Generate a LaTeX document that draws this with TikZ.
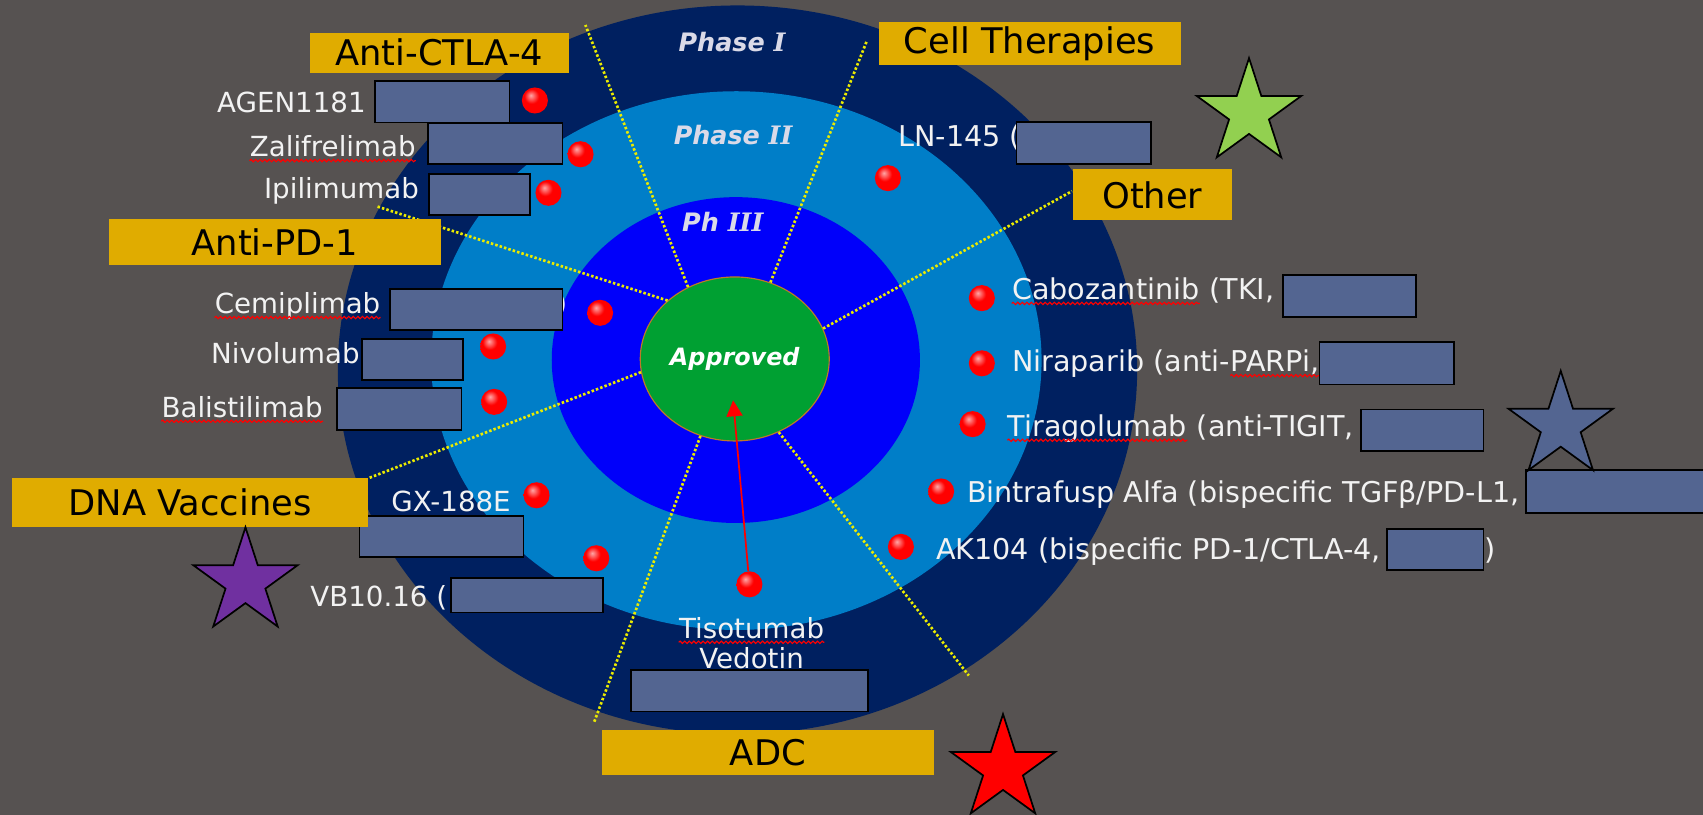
\documentclass[tikz,border=0pt]{standalone}
\usepackage{fontspec}
\setmainfont{DejaVu Sans}
\newfontfamily\romfont{DejaVu Serif}
\usepackage{xcolor}
\usepackage{tikz}
\usetikzlibrary{arrows.meta,positioning,shapes.geometric,decorations.pathmorphing}
\definecolor{ptbg}{RGB}{86,82,81}
\definecolor{ptnavy}{RGB}{0,32,96}
\definecolor{ptsky}{RGB}{0,126,200}
\definecolor{ptblue}{RGB}{0,0,250}
\definecolor{ptgreen}{RGB}{0,160,50}
\definecolor{ptrim}{RGB}{190,120,40}
\definecolor{ptgold}{RGB}{224,172,0}
\definecolor{ptredact}{RGB}{83,101,145}
\definecolor{ptyellow}{RGB}{235,235,0}
\definecolor{ptphase}{RGB}{218,218,232}
\definecolor{ptlabel}{RGB}{242,242,242}
\definecolor{ptlime}{RGB}{146,208,80}
\definecolor{ptpurple}{RGB}{112,48,160}
\pgfdeclareradialshading{ptball}{\pgfpoint{-8bp}{10bp}}{color(0bp)=(red!35!white);
  color(14bp)=(red); color(38bp)=(red); color(52bp)=(red!82!black); color(70bp)=(red!70!black)}
\tikzset{
  pttag/.style={fill=ptgold, text=black, inner sep=0pt,
    font=\fontsize{18.5}{22}\selectfont},
  ptname/.style={text=ptlabel, inner sep=0pt, font=\fontsize{14.5}{17}\selectfont},
  ptnamer/.style={text=ptlabel, inner sep=0pt, font=\fontsize{15}{18}\selectfont},
  ptbox/.style={draw=black, fill=ptredact, line width=0.9pt, inner sep=0pt},
  ptdot/.style={circle, shading=ptball, minimum size=0.48cm, inner sep=0pt},
  ptphasetxt/.style={text=ptphase, font=\fontsize{13.3}{16}\selectfont\bfseries\itshape},
  ptsector/.style={draw=ptyellow, line width=1.4pt, dash pattern=on 1.3pt off 1.1pt},
  ptspell/.style={draw=red, line width=0.6pt, decorate,
    decoration={snake, amplitude=0.6pt, segment length=2.4pt}},
  ptstar/.style={star, star points=5, star point ratio=2.618, minimum size=2.02cm,
    inner sep=0pt, draw=black, line width=0.9pt},
  ptarrow/.style={-{Triangle[length=8.4pt,width=8.4pt]}, draw=red, line width=0.9pt}
}
\begin{document}
\begin{tikzpicture}
  \useasboundingbox (0,0) rectangle (31.36cm,-15.00cm);
  \fill[ptbg] (0,0) rectangle (31.36cm,-15.00cm);
  \fill[ptnavy] (13.58cm,-6.81cm) ellipse (7.36cm and 6.71cm);
  \fill[ptsky] (13.56cm,-6.64cm) ellipse (5.62cm and 4.96cm);
  \fill[ptblue] (13.55cm,-6.63cm) ellipse (3.39cm and 3.00cm);
  \node[ellipse, draw=ptrim, line width=0.6pt, fill=ptgreen, minimum width=3.48cm,
    minimum height=3.02cm, inner sep=0pt, text=white,
    font=\fontsize{12.5}{15}\selectfont\bfseries\itshape] (appr) at (13.53cm,-6.61cm) {Approved};
  \coordinate (sCtla) at (10.78cm,-0.46cm);
  \coordinate (sCell) at (15.96cm,-0.76cm);
  \coordinate (sOther) at (19.74cm,-3.52cm);
  \coordinate (sPd) at (6.94cm,-3.80cm);
  \coordinate (sDna) at (6.80cm,-8.80cm);
  \coordinate (sAdcL) at (10.94cm,-13.30cm);
  \coordinate (sAdcR) at (17.84cm,-12.44cm);
  \draw[ptsector] (appr.123) -- (sCtla);
  \draw[ptsector] (appr.65) -- (sCell);
  \draw[ptsector] (appr.19) -- (sOther);
  \draw[ptsector] (appr.139) -- (sPd);
  \draw[ptsector] (appr.188) -- (sDna);
  \draw[ptsector] (appr.246) -- (sAdcL);
  \draw[ptsector] (appr.301) -- (sAdcR);
  \node[ptphasetxt] (phI) at (13.48cm,-0.78cm) {Phase {\romfont I}};
  \node[ptphasetxt] (phII) at (13.50cm,-2.48cm) {Phase {\romfont II}};
  \node[ptphasetxt] (phIII) at (13.31cm,-4.09cm) {Ph {\romfont III}};
  \node[ptname, anchor=base east] (tAgen) at (6.74cm,-2.07cm) {AGEN1181};
  \node[ptname, anchor=base east] (tZali) at (7.66cm,-2.88cm) {Zalifrelimab};
  \node[ptname, anchor=base east] (tIpil) at (7.72cm,-3.65cm) {Ipilimumab};
  \node[ptname, anchor=base east] (tCemi) at (7.01cm,-5.77cm) {Cemiplimab};
  \node[ptname, anchor=base west] (tCemiEnd) at (10.24cm,-5.77cm) {)};
  \node[ptname, anchor=base east] (tNivo) at (6.63cm,-6.70cm) {Nivolumab};
  \node[ptname, anchor=base east] (tBali) at (5.95cm,-7.68cm) {Balistilimab};
  \node[ptname, anchor=base west] (tGx) at (7.20cm,-9.42cm) {GX-188E};
  \node[ptname, anchor=base west] (tVb) at (5.71cm,-11.16cm) {VB10.16 (};
  \node[ptname, anchor=base] (tTiso) at (13.84cm,-11.75cm) {Tisotumab};
  \node[ptname, anchor=base] (tVedo) at (13.84cm,-12.31cm) {Vedotin};
  \node[ptnamer, anchor=base west] (tLn) at (16.54cm,-2.70cm) {LN-145 (};
  \node[ptnamer, anchor=base west] (tCabo) at (18.63cm,-5.51cm) {Cabozantinib};
  \node[ptnamer, anchor=base west] (tCaboRest) at ([xshift=4.8pt]tCabo.base east) {(TKI,};
  \node[ptnamer, anchor=base west] (tNira) at (18.63cm,-6.84cm) {Niraparib (anti-};
  \node[ptnamer, anchor=base west] (tNiraRest) at (tNira.base east) {PARPi,};
  \node[ptnamer, anchor=base west] (tTira) at (18.55cm,-8.03cm) {Tiragolumab};
  \node[ptnamer, anchor=base west] (tTiraRest) at ([xshift=4.8pt]tTira.base east) {(anti-TIGIT,};
  \node[ptnamer, anchor=base west] (tBint) at (17.80cm,-9.25cm) {Bintrafusp Alfa (bispecific TGFβ/PD-L1,};
  \node[ptnamer, anchor=base west] (tAk) at (17.23cm,-10.30cm) {AK104 (bispecific PD-1/CTLA-4,};
  \node[ptnamer, anchor=base west] (tAkEnd) at (27.32cm,-10.30cm) {)};
  \draw[ptspell] ([yshift=-2.2pt]tZali.base west) -- ([yshift=-2.2pt]tZali.base east);
  \draw[ptspell] ([yshift=-2.2pt]tCemi.base west) -- ([yshift=-2.2pt]tCemi.base east);
  \draw[ptspell] ([yshift=-2.2pt]tBali.base west) -- ([yshift=-2.2pt]tBali.base east);
  \draw[ptspell] ([yshift=-2.2pt]tTiso.base west) -- ([yshift=-2.2pt]tTiso.base east);
  \draw[ptspell] ([yshift=-2.2pt]tCabo.base west) -- ([yshift=-2.2pt]tCabo.base east);
  \draw[ptspell] ([yshift=-2.2pt]tNiraRest.base west) -- ([yshift=-2.2pt]tNiraRest.base east);
  \draw[ptspell] ([yshift=-2.2pt]tTira.base west) -- ([yshift=-2.2pt]tTira.base east);
  \node[ptbox, minimum width=2.48cm, minimum height=0.77cm] (bAgen) at (8.14cm,-1.87cm) {};
  \node[ptbox, minimum width=2.48cm, minimum height=0.76cm] (bZali) at (9.12cm,-2.64cm) {};
  \node[ptbox, minimum width=1.86cm, minimum height=0.76cm] (bIpil) at (8.83cm,-3.58cm) {};
  \node[ptbox, minimum width=3.18cm, minimum height=0.76cm] (bCemi) at (8.77cm,-5.70cm) {};
  \node[ptbox, minimum width=1.86cm, minimum height=0.76cm] (bNivo) at (7.59cm,-6.62cm) {};
  \node[ptbox, minimum width=2.30cm, minimum height=0.78cm] (bBali) at (7.35cm,-7.53cm) {};
  \node[ptbox, minimum width=3.02cm, minimum height=0.76cm] (bGx) at (8.13cm,-9.88cm) {};
  \node[ptbox, minimum width=2.80cm, minimum height=0.64cm] (bVb) at (9.70cm,-10.96cm) {};
  \node[ptbox, minimum width=4.36cm, minimum height=0.76cm] (bTiso) at (13.80cm,-12.72cm) {};
  \node[ptbox, minimum width=2.48cm, minimum height=0.78cm] (bLn) at (19.96cm,-2.63cm) {};
  \node[ptbox, minimum width=2.46cm, minimum height=0.78cm] (bCabo) at (24.85cm,-5.45cm) {};
  \node[ptbox, minimum width=2.48cm, minimum height=0.78cm] (bNira) at (25.54cm,-6.69cm) {};
  \node[ptbox, minimum width=2.26cm, minimum height=0.76cm] (bTira) at (26.19cm,-7.92cm) {};
  \node[ptbox, minimum width=3.40cm, minimum height=0.78cm] (bBint) at (29.80cm,-9.05cm) {};
  \node[ptbox, minimum width=1.78cm, minimum height=0.76cm] (bAk) at (26.43cm,-10.12cm) {};
  \node[ptdot] (dAgen) at (9.85cm,-1.85cm) {};
  \node[ptdot] (dZali) at (10.69cm,-2.84cm) {};
  \node[ptdot] (dIpil) at (10.10cm,-3.55cm) {};
  \node[ptdot] (dCemi) at (11.05cm,-5.76cm) {};
  \node[ptdot] (dNivo) at (9.08cm,-6.38cm) {};
  \node[ptdot] (dBali) at (9.10cm,-7.40cm) {};
  \node[ptdot] (dGx) at (9.88cm,-9.12cm) {};
  \node[ptdot] (dVb) at (10.98cm,-10.28cm) {};
  \node[ptdot] (dTiso) at (13.80cm,-10.76cm) {};
  \node[ptdot] (dLn) at (16.35cm,-3.28cm) {};
  \node[ptdot] (dCabo) at (18.08cm,-5.49cm) {};
  \node[ptdot] (dNira) at (18.08cm,-6.69cm) {};
  \node[ptdot] (dTira) at (17.91cm,-7.81cm) {};
  \node[ptdot] (dBint) at (17.33cm,-9.05cm) {};
  \node[ptdot] (dAk) at (16.59cm,-10.07cm) {};
  \node[pttag, minimum width=4.78cm, minimum height=0.74cm] (gCtla) at (8.09cm,-0.97cm) {Anti-CTLA-4};
  \node[pttag, minimum width=5.56cm, minimum height=0.80cm] (gCell) at (18.96cm,-0.80cm) {Cell Therapies};
  \node[pttag, minimum width=2.92cm, minimum height=0.94cm] (gOther) at (21.22cm,-3.59cm) {Other};
  \node[pttag, minimum width=6.12cm, minimum height=0.84cm] (gPd) at (5.06cm,-4.46cm) {Anti-PD-1};
  \node[pttag, minimum width=6.56cm, minimum height=0.90cm] (gDna) at (3.50cm,-9.25cm) {DNA Vaccines};
  \node[pttag, minimum width=6.12cm, minimum height=0.84cm] (gAdc) at (14.14cm,-13.86cm) {ADC};
  \node[ptstar, fill=ptlime] (stLime) at (23.00cm,-2.08cm) {};
  \node[ptstar, fill=ptpurple] (stPurple) at (4.52cm,-10.72cm) {};
  \node[ptstar, fill=ptredact] (stBlue) at (28.74cm,-7.84cm) {};
  \node[ptstar, fill=red] (stRed) at (18.47cm,-14.16cm) {};
  \coordinate (apprTip) at (13.50cm,-7.37cm);
  \draw[ptarrow] (dTiso) -- (apprTip);
\end{tikzpicture}
\end{document}
